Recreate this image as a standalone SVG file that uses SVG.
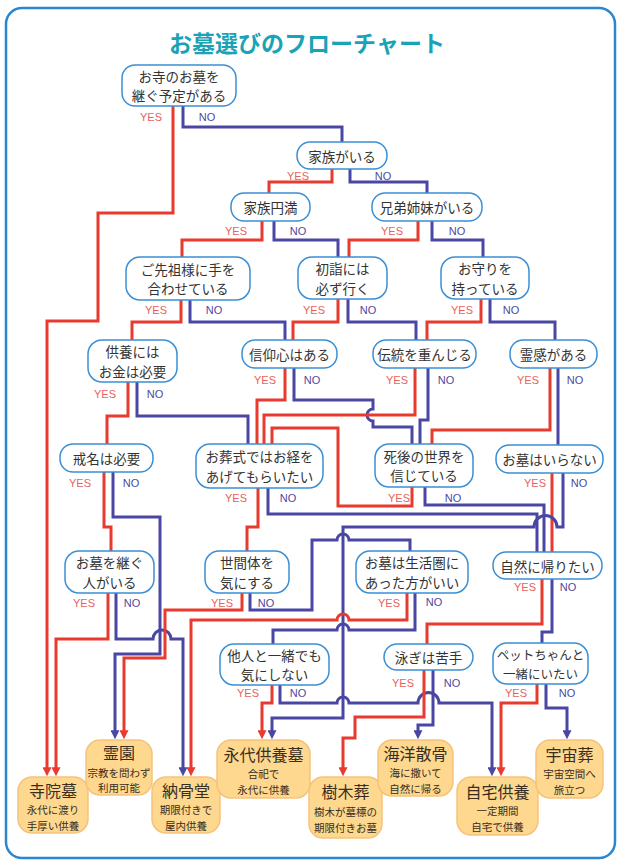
<svg xmlns="http://www.w3.org/2000/svg" width="622" height="866" viewBox="0 0 622 866">
<style>
.frame{fill:#fff;stroke:#2a86cf;stroke-width:2.5}
.title{font-family:"Noto Sans CJK JP","Noto Sans",sans-serif;font-weight:700;font-size:23px;fill:#1aa3b6;text-anchor:middle;dominant-baseline:central}
.node rect{fill:#fff;stroke:#3b8fd4;stroke-width:1.5}
.node text{font-family:"Noto Sans CJK JP","Noto Sans",sans-serif;font-size:13.5px;fill:#333;text-anchor:middle;dominant-baseline:central}
.term rect{fill:#fdd88e;stroke:#f6c27c;stroke-width:1.5}
.term text{font-family:"Noto Sans CJK JP","Noto Sans",sans-serif;fill:#3a2d1e;text-anchor:middle;dominant-baseline:central;font-size:16px}
.term .s{font-size:10.5px}
.c path{fill:none;stroke-width:3;stroke-linejoin:miter}
.r{stroke:#e83a2e}
.p{stroke:#4a46a3}
.lab text{font-family:"Liberation Sans Narrow","Liberation Sans",sans-serif;font-size:11px;text-anchor:middle;dominant-baseline:central}
.y{fill:#e8625c}
.n{fill:#4f479f}
</style>
<defs>
<marker id="ar" viewBox="0 0 10 10" refX="3" refY="5" markerWidth="9" markerHeight="9" markerUnits="userSpaceOnUse" orient="auto"><path d="M0,0 L10,5 L0,10 z" fill="#e83a2e"/></marker>
<marker id="ap" viewBox="0 0 10 10" refX="3" refY="5" markerWidth="9" markerHeight="9" markerUnits="userSpaceOnUse" orient="auto"><path d="M0,0 L10,5 L0,10 z" fill="#4a46a3"/></marker>
</defs>
<rect class="frame" x="6" y="8" width="609" height="850" rx="16"/>
<text class="title" x="307" y="42">お墓選びのフローチャート</text>

<g id="connectors" class="c">
<path class="r" d="M173,106 V213 H98 V321 H47 V770" marker-end="url(#ar)"/>
<path class="p" d="M183,106 V127 H342 V142"/>
<path class="r" d="M332,169 V182 H269 V193"/>
<path class="p" d="M350,169 V182 H427 V193"/>
<path class="r" d="M262,221 V240 H182 V257"/>
<path class="p" d="M274,221 V240 H338 V257"/>
<path class="r" d="M418,221 V240 H349 V257"/>
<path class="p" d="M432,221 V240 H483 V257"/>
<path class="r" d="M181,300 V322 H132 V340"/>
<path class="p" d="M190,300 V322 H285 V340"/>
<path class="r" d="M338,299 V322 H293 V340"/>
<path class="p" d="M348,299 V322 H416 V340"/>
<path class="r" d="M481,299 V322 H427 V340"/>
<path class="p" d="M490,299 V322 H555 V340"/>
<path class="r" d="M128,382 V416 H107 V444"/>
<path class="p" d="M137,382 V416 H248 V444"/>
<path class="r" d="M285,368 V400 H257 V444"/>
<path class="p" d="M294,368 V400 H373 V409 A6,6 0 0 0 373,421 V427 H412 V444"/>
<path class="r" d="M415,368 V415 H264 V444"/>
<path class="p" d="M428,368 V420 H420 V444"/>
<path class="r" d="M550,368 V430 H432 V444"/>
<path class="p" d="M558,368 V445"/>
<path class="r" d="M104,472 V527 H111 V551"/>
<path class="p" d="M113,472 V517 H160 V654 H115 V733" marker-end="url(#ap)"/>
<path class="r" d="M258,488 V527 H247 V551"/>
<path class="p" d="M268,488 V514 H537 V552"/>
<path class="r" d="M412,487 V506 H338 V428 H272 V444"/>
<path class="p" d="M425,487 V505 H544 V552"/>
<path class="r" d="M552,473 V552"/>
<path class="p" d="M563,473 V527 H557 A11.5,11.5 0 0 0 534,527 H343 V718 H272 V733" marker-end="url(#ap)"/>
<path class="r" d="M108,593 V639 H56 V770" marker-end="url(#ar)"/>
<path class="p" d="M116,593 V639 H153 A9,9 0 0 1 171,639 H183 V770" marker-end="url(#ap)"/>
<path class="r" d="M242,593 V610 H165 V658 H124 V733" marker-end="url(#ar)"/>
<path class="p" d="M250,593 V610 H312 V540 H337 A6,6 0 0 1 349,540 H410 V551"/>
<path class="r" d="M407,593 V620 H349 A6,6 0 0 0 337,620 H191 V770" marker-end="url(#ar)"/>
<path class="p" d="M415,593 V630 H349 A6,6 0 0 0 337,630 H273 V644"/>
<path class="r" d="M542,579 V624 H427 V644"/>
<path class="p" d="M552,579 V632 H542 V643"/>
<path class="r" d="M272,685 V703 H262 V733" marker-end="url(#ar)"/>
<path class="p" d="M280,685 V703 H337 A6,6 0 0 1 349,703 H418 A10.5,10.5 0 0 1 439,703 H492 V770" marker-end="url(#ap)"/>
<path class="r" d="M424,670 V717 H355 V738 H343 V770" marker-end="url(#ar)"/>
<path class="p" d="M433,670 V725 H418 V733" marker-end="url(#ap)"/>
<path class="r" d="M537,684 V703 H501 V770" marker-end="url(#ar)"/>
<path class="p" d="M546,684 V708 H567 V733" marker-end="url(#ap)"/>
</g>

<g id="labels" class="lab">
<text class="y" x="151" y="117">YES</text><text class="n" x="207" y="117">NO</text>
<text class="y" x="298" y="176">YES</text><text class="n" x="383" y="176">NO</text>
<text class="y" x="236" y="231">YES</text><text class="n" x="298" y="231">NO</text>
<text class="y" x="392" y="231">YES</text><text class="n" x="457" y="231">NO</text>
<text class="y" x="156" y="310">YES</text><text class="n" x="214" y="310">NO</text>
<text class="y" x="314" y="310">YES</text><text class="n" x="368" y="310">NO</text>
<text class="y" x="462" y="310">YES</text><text class="n" x="511" y="310">NO</text>
<text class="y" x="105" y="394">YES</text><text class="n" x="155" y="394">NO</text>
<text class="y" x="265" y="380">YES</text><text class="n" x="312" y="380">NO</text>
<text class="y" x="397" y="380">YES</text><text class="n" x="446" y="380">NO</text>
<text class="y" x="528" y="380">YES</text><text class="n" x="575" y="380">NO</text>
<text class="y" x="80" y="483">YES</text><text class="n" x="131" y="483">NO</text>
<text class="y" x="236" y="498">YES</text><text class="n" x="288" y="498">NO</text>
<text class="y" x="399" y="498">YES</text><text class="n" x="453" y="498">NO</text>
<text class="y" x="535" y="483">YES</text><text class="n" x="579" y="483">NO</text>
<text class="y" x="84" y="603">YES</text><text class="n" x="132" y="603">NO</text>
<text class="y" x="222" y="603">YES</text><text class="n" x="266" y="603">NO</text>
<text class="y" x="389" y="603">YES</text><text class="n" x="434" y="602">NO</text>
<text class="y" x="525" y="587">YES</text><text class="n" x="568" y="587">NO</text>
<text class="y" x="248" y="693">YES</text><text class="n" x="298" y="693">NO</text>
<text class="y" x="403" y="683">YES</text><text class="n" x="452" y="683">NO</text>
<text class="y" x="516" y="693">YES</text><text class="n" x="567" y="693">NO</text>
</g>

<g id="n1" class="node"><rect x="122" y="65" width="114" height="41" rx="13"/><text x="179" y="75.7">お寺のお墓を<tspan x="179" dy="19.6">継ぐ予定がある</tspan></text></g>
<g id="n2" class="node"><rect x="297" y="142" width="90" height="27" rx="13"/><text x="342" y="155.5">家族がいる</text></g>
<g id="n3" class="node"><rect x="231" y="193" width="79" height="28" rx="13"/><text x="270.5" y="207">家族円満</text></g>
<g id="n4" class="node"><rect x="372" y="193" width="110" height="28" rx="13"/><text x="427" y="207">兄弟姉妹がいる</text></g>
<g id="n5" class="node"><rect x="126" y="257" width="124" height="43" rx="14"/><text x="188" y="268.7">ご先祖様に手を<tspan x="188" dy="19.6">合わせている</tspan></text></g>
<g id="n6" class="node"><rect x="298" y="257" width="89" height="42" rx="14"/><text x="342.5" y="268.2">初詣には<tspan x="342.5" dy="19.6">必ず行く</tspan></text></g>
<g id="n7" class="node"><rect x="441" y="257" width="88" height="42" rx="14"/><text x="485" y="268.2">お守りを<tspan x="485" dy="19.6">持っている</tspan></text></g>
<g id="n8" class="node"><rect x="88" y="340" width="89" height="42" rx="14"/><text x="132.5" y="351.2">供養には<tspan x="132.5" dy="19.6">お金は必要</tspan></text></g>
<g id="n9" class="node"><rect x="242" y="340" width="95" height="28" rx="13"/><text x="289.5" y="354">信仰心はある</text></g>
<g id="n10" class="node"><rect x="373" y="340" width="103" height="28" rx="13"/><text x="424.5" y="354">伝統を重んじる</text></g>
<g id="n11" class="node"><rect x="510" y="340" width="87" height="28" rx="13"/><text x="553.5" y="354">霊感がある</text></g>
<g id="n12" class="node"><rect x="60" y="444" width="93" height="28" rx="13"/><text x="106.5" y="458">戒名は必要</text></g>
<g id="n13" class="node"><rect x="196" y="444" width="127" height="44" rx="14"/><text x="259.5" y="456.2">お葬式ではお経を<tspan x="259.5" dy="19.6">あげてもらいたい</tspan></text></g>
<g id="n14" class="node"><rect x="375" y="444" width="98" height="43" rx="14"/><text x="424" y="455.7">死後の世界を<tspan x="424" dy="19.6">信じている</tspan></text></g>
<g id="n15" class="node"><rect x="496" y="445" width="107" height="28" rx="13"/><text x="549.5" y="459">お墓はいらない</text></g>
<g id="n16" class="node"><rect x="65" y="551" width="89" height="42" rx="14"/><text x="109.5" y="562.2">お墓を継ぐ<tspan x="109.5" dy="19.6">人がいる</tspan></text></g>
<g id="n17" class="node"><rect x="205" y="551" width="84" height="42" rx="14"/><text x="247" y="562.2">世間体を<tspan x="247" dy="19.6">気にする</tspan></text></g>
<g id="n18" class="node"><rect x="356" y="551" width="112" height="42" rx="14"/><text x="412" y="562.2">お墓は生活圏に<tspan x="412" dy="19.6">あった方がいい</tspan></text></g>
<g id="n19" class="node"><rect x="493" y="552" width="109" height="27" rx="13"/><text x="547.5" y="565.5">自然に帰りたい</text></g>
<g id="n20" class="node"><rect x="220" y="644" width="109" height="41" rx="14"/><text x="274.5" y="654.7">他人と一緒でも<tspan x="274.5" dy="19.6">気にしない</tspan></text></g>
<g id="n21" class="node"><rect x="384" y="644" width="89" height="26" rx="13"/><text x="428.5" y="657">泳ぎは苦手</text></g>
<g id="n22" class="node"><rect x="493" y="643" width="95" height="41" rx="14"/><text x="540.5" y="654.2" style="font-size:12.5px">ペットちゃんと<tspan x="540.5" dy="18.6">一緒にいたい</tspan></text></g>

<g id="t1" class="term"><rect x="18" y="777" width="70" height="56" rx="14"/><text x="53" y="789.8">寺院墓<tspan class="s" x="53" dy="19.4">永代に渡り</tspan><tspan class="s" x="53" dy="15.3">手厚い供養</tspan></text></g>
<g id="t2" class="term"><rect x="86" y="740" width="66" height="55" rx="14"/><text x="119" y="752.4">霊園<tspan class="s" x="119" dy="19.4">宗教を問わず</tspan><tspan class="s" x="119" dy="15.3">利用可能</tspan></text></g>
<g id="t3" class="term"><rect x="152" y="777" width="68" height="56" rx="14"/><text x="186" y="789.8">納骨堂<tspan class="s" x="186" dy="19.4">期限付きで</tspan><tspan class="s" x="186" dy="15.3">屋内供養</tspan></text></g>
<g id="t4" class="term"><rect x="217" y="740" width="93" height="58" rx="14"/><text x="263.5" y="753.6">永代供養墓<tspan class="s" x="263.5" dy="19.6">合祀で</tspan><tspan class="s" x="263.5" dy="15.4">永代に供養</tspan></text></g>
<g id="t5" class="term"><rect x="309" y="777" width="73" height="61" rx="14"/><text x="345.5" y="791">樹木葬<tspan class="s" x="345.5" dy="20">樹木が墓標の</tspan><tspan class="s" x="345.5" dy="15.5">期限付きお墓</tspan></text></g>
<g id="t6" class="term"><rect x="378" y="740" width="75" height="56" rx="14"/><text x="415.5" y="752.8">海洋散骨<tspan class="s" x="415.5" dy="19.4">海に撒いて</tspan><tspan class="s" x="415.5" dy="15.3">自然に帰る</tspan></text></g>
<g id="t7" class="term"><rect x="457" y="777" width="81" height="58" rx="14"/><text x="497.5" y="790.6">自宅供養<tspan class="s" x="497.5" dy="19.6">一定期間</tspan><tspan class="s" x="497.5" dy="15.4">自宅で供養</tspan></text></g>
<g id="t8" class="term"><rect x="536" y="740" width="67" height="58" rx="14"/><text x="569.5" y="753.6">宇宙葬<tspan class="s" x="569.5" dy="19.6">宇宙空間へ</tspan><tspan class="s" x="569.5" dy="15.4">旅立つ</tspan></text></g>
</svg>
